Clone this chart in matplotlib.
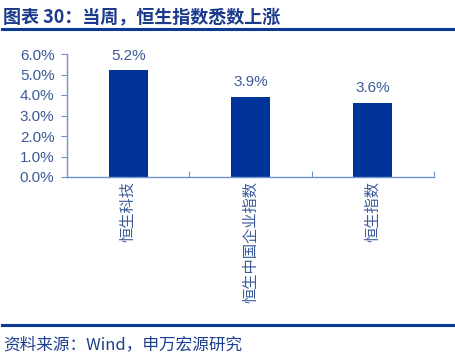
import matplotlib
matplotlib.use("Agg")
import matplotlib.pyplot as plt
from matplotlib.lines import Line2D
from matplotlib.ticker import FuncFormatter, MultipleLocator

plt.rcParams['font.family'] = ['Noto Sans CJK SC', 'DejaVu Sans']

categories = ["恒生科技", "恒生中国企业指数", "恒生指数"]
values = [5.2, 3.9, 3.6]
title = "图表 30：当周，恒生指数悉数上涨"
source = "资料来源：Wind，申万宏源研究"

W, H = 456, 359
fig = plt.figure(figsize=(W/100, H/100), dpi=100)

bar_color = "#003399"
axis_color = "#7192CC"
label_color = "#3A5A9A"
num_font = ['Liberation Sans', 'DejaVu Sans']

ax = fig.add_axes([67/W, 1-177/H, (434-67)/W, (177-54)/H])
x = range(len(categories))
ax.bar(x, values, width=0.32, color=bar_color)
ax.set_xlim(-0.5, len(categories)-0.5)
ax.set_ylim(0, 6)
ax.yaxis.set_major_locator(MultipleLocator(1))
ax.yaxis.set_major_formatter(FuncFormatter(lambda v, p: f"{v:.1f}%"))
for s in ["top", "right"]:
    ax.spines[s].set_visible(False)
for s in ["left", "bottom"]:
    ax.spines[s].set_color(axis_color)
    ax.spines[s].set_linewidth(1)
ax.tick_params(axis="y", colors=axis_color, labelcolor=label_color, labelsize=11, length=4, direction="out", pad=5)
ax.set_xticks([i - 0.5 for i in range(1, len(categories)+1)])
ax.set_xticklabels([])
ax.tick_params(axis="x", colors=axis_color, length=4, direction="in")
for lab in ax.get_yticklabels():
    lab.set_family(num_font)
for i, (c, v) in enumerate(zip(categories, values)):
    ax.text(i, v + 0.38, f"{v:.1f}%", ha="center", va="bottom", fontsize=11, color=label_color, family=num_font)
    ax.text(i, -0.2, c, rotation=90, ha="center", va="top", fontsize=11, color=label_color)

fig.text(3/W, 1-17/H, title, fontsize=13, fontweight="bold", color="#1B3A8C", va="center", ha="left")
fig.add_artist(Line2D([2/W, 455/W], [1-28.5/H, 1-28.5/H], color="#0A3A94", linewidth=2.2))
fig.add_artist(Line2D([2/W, 455/W], [1-325/H, 1-325/H], color="#0A3A94", linewidth=2.2))
fig.text(3/W, 1-345/H, source, fontsize=12, color="#1E3F8F", va="center", ha="left")

fig.savefig("out.png", dpi=100)
